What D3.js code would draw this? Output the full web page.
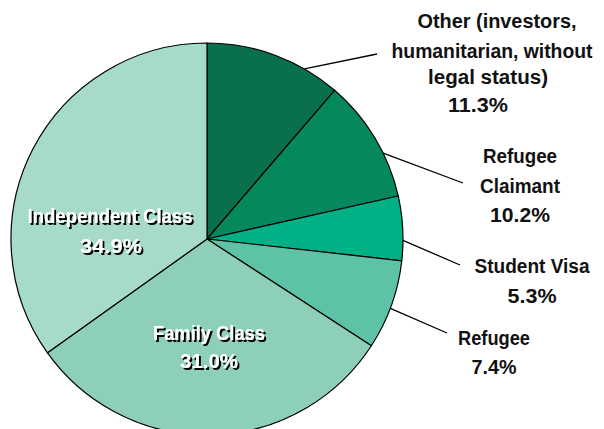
<!DOCTYPE html>
<html><head><meta charset="utf-8">
<script src="https://cdn.jsdelivr.net/npm/d3@7"></script>
<style>
html,body{margin:0;padding:0;background:#fff;}
svg{display:block;}
text{font-family:"Liberation Sans",Arial,sans-serif;font-weight:bold;}
</style></head>
<body>
<script>
const categories = ["Other (investors, humanitarian, without legal status)", "Refugee Claimant", "Student Visa", "Refugee", "Family Class", "Independent Class"];
const values = [11.3, 10.2, 5.3, 7.4, 31.0, 34.9];
const valueLabels = ["11.3%", "10.2%", "5.3%", "7.4%", "31.0%", "34.9%"];
const colors = ["#0a6f4b", "#06885e", "#00b186", "#5ec3a6", "#8ecfb8", "#a6dbc9"];

// layout (not data): line text, centre x, baseline y, drawn width
const W = 604, H = 429, cx = 207, cy = 239, R = 196;
const outsideLabels = [
  {i:0, lines:[{t:"Other (investors,",x:497,y:28,w:159},{t:"humanitarian, without",x:492,y:58,w:201},{t:"legal status)",x:488,y:84,w:120},{t:null,x:478,y:112,w:60}], leadAngle:29.8, end:[377,54]},
  {i:1, lines:[{t:"Refugee",x:520,y:163,w:74},{t:"Claimant",x:520,y:193,w:80},{t:null,x:520,y:222,w:60}], leadAngle:64, end:[463,183]},
  {i:2, lines:[{t:"Student Visa",x:532,y:273,w:115},{t:null,x:532,y:303,w:49}], leadAngle:90.4, end:[460,265]},
  {i:3, lines:[{t:"Refugee",x:494,y:345,w:72},{t:null,x:494,y:374,w:45}], leadAngle:110.7, end:[447,333]}
];
const insideLabels = [
  {i:4, lines:[{t:"Family Class",x:209,y:340,w:112},{t:null,x:209,y:368,w:58}]},
  {i:5, lines:[{t:"Independent Class",x:110,y:223,w:165},{t:null,x:111,y:253,w:62}]}
];

const svg = d3.select("body").append("svg").attr("width", W).attr("height", H);
const defs = svg.append("defs");
const f = defs.append("filter").attr("id", "shadow").attr("x", "-10%").attr("y", "-20%").attr("width", "130%").attr("height", "150%");
f.append("feOffset").attr("in", "SourceAlpha").attr("dx", 1.8).attr("dy", 1.8).attr("result", "off");
f.append("feColorMatrix").attr("in", "off").attr("type", "matrix")
  .attr("values", "0 0 0 0 0  0 0 0 0 0  0 0 0 0 0  0 0 0 1 0").attr("result", "sh");
const m = f.append("feMerge");
m.append("feMergeNode").attr("in", "sh");
m.append("feMergeNode").attr("in", "SourceGraphic");

const g = svg.append("g").attr("transform", `translate(${cx},${cy})`);

const pie = d3.pie().sort(null).value(d => d)(values);
const arc = d3.arc().innerRadius(0).outerRadius(R);

g.selectAll("path").data(pie).join("path")
  .attr("d", arc)
  .attr("fill", (d,i) => colors[i])
  .attr("stroke", "#000")
  .attr("stroke-width", 1.2)
  .attr("stroke-linejoin", "round");

function addText(ln, txt, fill, filt) {
  const t = svg.append("text").attr("x", ln.x).attr("y", ln.y).attr("text-anchor", "middle")
    .attr("font-size", 20).attr("fill", fill)
    .attr("textLength", ln.w).attr("lengthAdjust", "spacingAndGlyphs")
    .text(txt);
  if (filt) t.attr("filter", "url(#shadow)");
}

outsideLabels.forEach(L => {
  const a = L.leadAngle * Math.PI / 180;
  const x1 = cx + R * Math.sin(a), y1 = cy - R * Math.cos(a);
  svg.append("line").attr("x1", x1).attr("y1", y1).attr("x2", L.end[0]).attr("y2", L.end[1])
    .attr("stroke", "#000").attr("stroke-width", 1.3);
  L.lines.forEach(ln => addText(ln, ln.t === null ? valueLabels[L.i] : ln.t, "#111", false));
});

insideLabels.forEach(L => {
  L.lines.forEach(ln => addText(ln, ln.t === null ? valueLabels[L.i] : ln.t, "#fff", true));
});
</script>
</body></html>
